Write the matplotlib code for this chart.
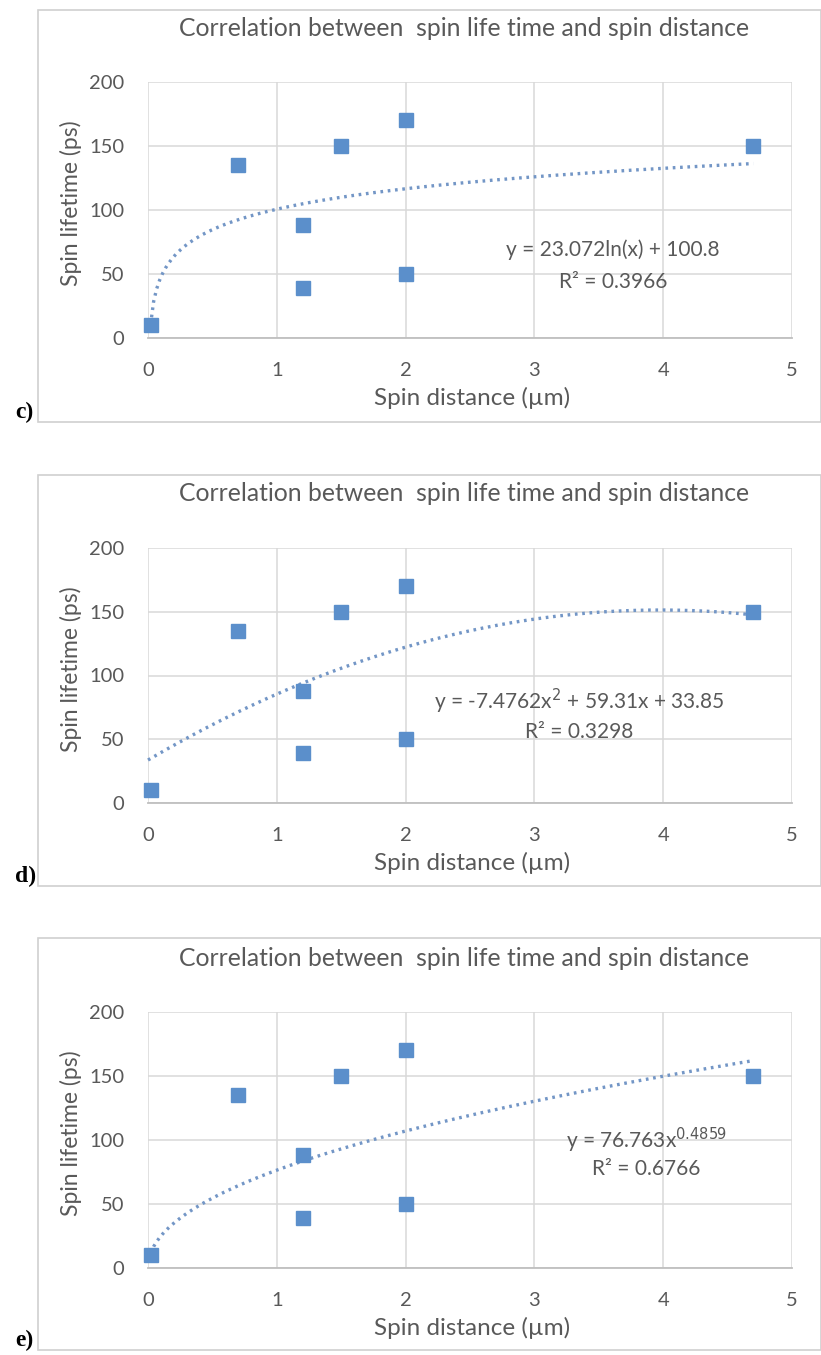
import numpy as np
import matplotlib.pyplot as plt
from matplotlib.patches import Rectangle

# measured spin distance (um) and spin lifetime (ps)
distance = [0.02, 0.7, 1.2, 1.2, 1.5, 2.0, 2.0, 4.7]
lifetime = [10, 135, 88, 39, 150, 170, 50, 150]

panel_labels = ["c)", "d)", "e)"]
fit_kinds = ["log", "poly2", "power"]
eq_lines = [
    ("y = 23.072ln(x) + 100.8", "R² = 0.3966"),
    ("y = -7.4762x$^{2}$ + 59.31x + 33.85", "R² = 0.3298"),
    ("y = 76.763x$^{0.4859}$", "R² = 0.6766"),
]

x_ticks = [0, 1, 2, 3, 4, 5]
y_ticks = [0, 50, 100, 150, 200]

title = "Correlation between  spin life time and spin distance"
xlabel = "Spin distance (µm)"
ylabel = "Spin lifetime (ps)"

plt.rcParams['font.family'] = ['Lato', 'DejaVu Sans']
txt_col = '#595959'
pt_col = '#5B8FCB'
fit_col = '#7396C6'
grid_col = '#D9D9D9'

W, H = 821, 1355
fig = plt.figure(figsize=(W / 100, H / 100), dpi=100)

# pixel geometry of each panel: (axes top, axes bottom, border top, border bottom)
panels = [(82, 338, 10, 422), (548, 803, 475, 886), (1012, 1268, 938, 1350)]
eq_pos = [((3.61, 69), (3.61, 44)), ((3.35, 80), (3.35, 56)), ((3.87, 100), (3.87, 77))]

x = np.array(distance)
y = np.array(lifetime)

for i, (top, bot, btop, bbot) in enumerate(panels):
    # outer chart border
    fig.patches.append(Rectangle((38 / W, 1 - bbot / H), (W - 38) / W, (bbot - btop) / H,
                                 transform=fig.transFigure, fill=False,
                                 edgecolor='#D0D0D0', lw=1.2))
    fig.text(15 / W, 1 - (bbot - 10) / H, panel_labels[i], family='Liberation Serif',
             fontweight='bold', fontsize=17, ha='left', va='center')

    ax = fig.add_axes([148 / W, 1 - bot / H, (792 - 148) / W, (bot - top) / H])
    ax.set_xlim(0, 5)
    ax.set_ylim(0, 200)
    ax.set_xticks(x_ticks)
    ax.set_yticks(y_ticks)
    ax.grid(True, color=grid_col, lw=1.1)
    ax.set_axisbelow(True)
    for s in ['top', 'right', 'left']:
        ax.spines[s].set_visible(False)
    ax.spines['bottom'].set_color('#BFBFBF')
    ax.spines['bottom'].set_linewidth(1.3)
    ax.tick_params(length=0, labelsize=14.5, colors=txt_col, pad=17)
    ax.tick_params(axis='y', pad=17)

    # trendline fitted from the data, like Excel does
    kind = fit_kinds[i]
    if kind == "log":
        c = np.polyfit(np.log(x), y, 1)
        xs = np.linspace(x.min(), x.max(), 200)
        ys = c[0] * np.log(xs) + c[1]
    elif kind == "poly2":
        c = np.polyfit(x, y, 2)
        xs = np.linspace(0, x.max(), 200)
        ys = np.polyval(c, xs)
    else:
        c = np.polyfit(np.log(x), np.log(y), 1)
        xs = np.linspace(x.min(), x.max(), 200)
        ys = np.exp(c[1]) * xs ** c[0]
    ax.plot(xs, ys, ls=(0, (0.8, 1.4)), color=fit_col, lw=2.4, clip_on=False, zorder=2)

    ax.plot(x, y, 's', color=pt_col, ms=9.5, mec=pt_col, clip_on=False, zorder=3)

    (ex1, ey1), (ex2, ey2) = eq_pos[i]
    ax.text(ex1, ey1, eq_lines[i][0], ha='center', va='center', fontsize=15, color=txt_col)
    ax.text(ex2, ey2, eq_lines[i][1], ha='center', va='center', fontsize=15, color=txt_col)

    # title and axis titles placed in pixel positions
    fig.text(464 / W, 1 - (top - 54) / H, title, fontsize=17.8, color=txt_col,
             ha='center', va='center')
    fig.text(472 / W, 1 - (bot + 60) / H, xlabel, fontsize=17.5, color=txt_col,
             ha='center', va='center')
    fig.text(71 / W, 1 - (top + 121) / H, ylabel, fontsize=16.5, color=txt_col,
             ha='center', va='center', rotation=90)

fig.savefig('out.png', dpi=100)
